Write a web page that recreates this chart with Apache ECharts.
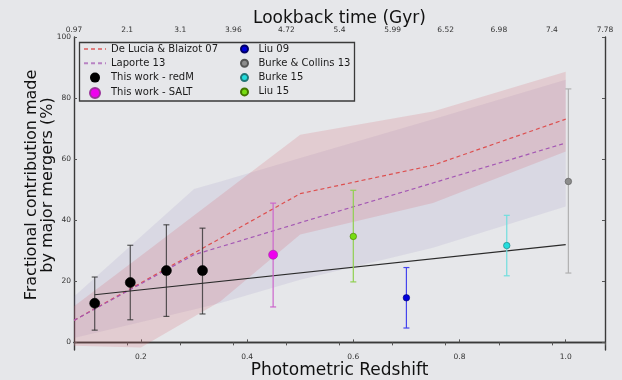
<!DOCTYPE html>
<html>
<head>
<meta charset="utf-8">
<script src="https://cdn.jsdelivr.net/npm/echarts@6/dist/echarts.min.js"></script>
<style>
  html, body { margin: 0; padding: 0; background: #e6e7ea; }
  #chart { width: 622px; height: 380px; }
</style>
</head>
<body>
<div id="chart"></div>
<script>
// Tick labels
const zTicks = [0.2, 0.4, 0.6, 0.8, 1.0];
const fracTicks = [0, 20, 40, 60, 80, 100];
const lookbackLabels = ['0.97', '2.1', '3.1', '3.96', '4.72', '5.4', '5.99', '6.52', '6.98', '7.4', '7.78'];

// De Lucia & Blaizot 07 model: median and spread
const deLuciaZ   = [0.074, 0.2, 0.35, 0.5, 0.75, 1.0];
const deLuciaMid = [7.2, 19.5, 34.1, 48.7, 58.0, 73.1];
const deLuciaHi  = [11.8, 28.4, 48.2, 68.0, 75.6, 88.6];
const deLuciaLo  = [-1.1, -1.7, 13.5, 35.3, 45.6, 62.5];

// Laporte 13 model: median and spread
const laporteZ   = [0.074, 0.3, 0.35, 0.5, 0.75, 1.0];
const laporteMid = [7.2, 28.7, 31.3, 39.2, 52.2, 65.3];
const laporteHi  = [15.0, 50.2, 52.7, 60.4, 73.1, 86.0];
const laporteLo  = [1.4, 10.8, 12.9, 20.5, 31.0, 44.5];

// Linear fit to this work
const fitZ = [0.113, 1.0];
const fitY = [15.6, 32.0];

// Measurements: redshift, value, lower and upper error limits
const redmZ  = [0.113, 0.180, 0.248, 0.316];
const redmY  = [12.8, 19.6, 23.5, 23.5];
const redmLo = [4.0, 7.4, 8.5, 9.3];
const redmHi = [21.4, 31.8, 38.5, 37.4];

const saltZ = [0.449], saltY = [28.7], saltLo = [11.6], saltHi = [45.6];
const liu09Z = [0.700], liu09Y = [14.6], liu09Lo = [4.7], liu09Hi = [24.5];
const bc13Z = [1.005], bc13Y = [52.7], bc13Lo = [22.7], bc13Hi = [83.0];
const burke15Z = [0.889], burke15Y = [31.7], burke15Lo = [21.8], burke15Hi = [41.6];
const liu15Z = [0.600], liu15Y = [34.7], liu15Lo = [19.8], liu15Hi = [49.8];

const FONT = 'DejaVu Sans';

function zip2(a, b) { return a.map((v, i) => [v, b[i]]); }
function zip3(a, b, c) { return a.map((v, i) => [v, b[i], c[i]]); }

function bandSeries(z, lo, hi, color) {
  return {
    type: 'custom',
    coordinateSystem: 'cartesian2d',
    clip: true,
    silent: true,
    z: 1,
    data: zip3(z, lo, hi),
    encode: { x: 0, y: [1, 2] },
    renderItem: function (params, api) {
      if (params.dataIndexInside !== 0) return;
      const n = params.dataInsideLength;
      const pts = [];
      for (let i = 0; i < n; i++) pts.push(api.coord([api.value(0, i), api.value(2, i)]));
      for (let i = n - 1; i >= 0; i--) pts.push(api.coord([api.value(0, i), api.value(1, i)]));
      return { type: 'polygon', shape: { points: pts }, style: { fill: color } };
    }
  };
}

function errorSeries(z, lo, hi, color) {
  return {
    type: 'custom',
    coordinateSystem: 'cartesian2d',
    silent: true,
    z: 3,
    data: zip3(z, lo, hi),
    encode: { x: 0, y: [1, 2] },
    renderItem: function (params, api) {
      const top = api.coord([api.value(0), api.value(2)]);
      const bot = api.coord([api.value(0), api.value(1)]);
      const w = 3;
      const st = { stroke: color, lineWidth: 1.2 };
      return {
        type: 'group',
        children: [
          { type: 'line', shape: { x1: top[0], y1: top[1], x2: bot[0], y2: bot[1] }, style: st },
          { type: 'line', shape: { x1: top[0] - w, y1: top[1], x2: top[0] + w, y2: top[1] }, style: st },
          { type: 'line', shape: { x1: bot[0] - w, y1: bot[1], x2: bot[0] + w, y2: bot[1] }, style: st }
        ]
      };
    }
  };
}

function pointSeries(name, z, y, color, size, edge) {
  return {
    name: name,
    type: 'scatter',
    z: 4,
    symbol: 'circle',
    symbolSize: size,
    data: zip2(z, y),
    itemStyle: { color: color, opacity: 1, borderColor: edge, borderWidth: 0.6 }
  };
}

const axisLineStyle = { color: '#3a3a3a', width: 1.4 };
const tickLabel = { fontSize: 7.5, color: '#333', fontFamily: FONT };
const legendText = { fontSize: 10, color: '#1a1a1a', fontFamily: FONT, lineHeight: 10 };

const chart = echarts.init(document.getElementById('chart'), null, { renderer: 'canvas' });

chart.setOption({
  backgroundColor: '#e6e7ea',
  animation: false,
  textStyle: { fontFamily: FONT },
  grid: { left: 74, right: 17, top: 37, bottom: 30, containLabel: false, outerBoundsMode: 'none' },
  xAxis: [
    {
      type: 'value', position: 'bottom', min: 0.074, max: 1.074,
      name: 'Photometric Redshift', nameLocation: 'middle', nameGap: 12, nameMoveOverlap: false,
      nameTextStyle: { fontSize: 17, color: '#111', fontFamily: FONT },
      axisLine: { show: true, lineStyle: axisLineStyle },
      axisTick: { show: true, inside: true, length: 3, customValues: zTicks, lineStyle: { color: '#555' } },
      axisLabel: Object.assign({ customValues: zTicks, margin: 3, formatter: v => v.toFixed(1) }, tickLabel),
      splitLine: { show: false }
    },
    {
      type: 'value', position: 'top', min: 0, max: lookbackLabels.length - 1,
      name: 'Lookback time (Gyr)', nameLocation: 'middle', nameGap: 10, nameMoveOverlap: false,
      nameTextStyle: { fontSize: 17, color: '#111', fontFamily: FONT },
      axisLine: { show: true, lineStyle: axisLineStyle },
      axisTick: { show: true, inside: true, length: 3, customValues: lookbackLabels.map((_, i) => i), lineStyle: { color: '#555' } },
      axisLabel: Object.assign({ customValues: lookbackLabels.map((_, i) => i), margin: 3, formatter: v => lookbackLabels[Math.round(v)] }, tickLabel),
      splitLine: { show: false }
    }
  ],
  yAxis: [
    {
      type: 'value', position: 'left', min: -2.5, max: 100,
      axisLine: { show: true, lineStyle: axisLineStyle },
      axisTick: { show: true, inside: true, length: 3, customValues: fracTicks, lineStyle: { color: '#555' } },
      axisLabel: Object.assign({ customValues: fracTicks, margin: 3 }, tickLabel),
      splitLine: { show: false }
    },
    {
      type: 'value', position: 'right', min: -2.5, max: 100,
      axisLine: { show: true, lineStyle: axisLineStyle },
      axisTick: { show: true, inside: true, length: 3, customValues: fracTicks, lineStyle: { color: '#555' } },
      axisLabel: { show: false },
      splitLine: { show: false }
    }
  ],
  legend: [
    {
      orient: 'vertical', left: 83, top: 44, padding: 0,
      itemWidth: 22, itemHeight: 10, itemGap: 4.3,
      textStyle: legendText,
      data: [
        { name: 'De Lucia & Blaizot 07', itemStyle: { opacity: 0 }, lineStyle: { opacity: 0.7 } },
        { name: 'Laporte 13', itemStyle: { opacity: 0 }, lineStyle: { opacity: 0.7 } },
        { name: 'This work - redM', itemStyle: { borderWidth: 0 } },
        { name: 'This work - SALT' }
      ]
    },
    {
      orient: 'vertical', left: 240, top: 44, padding: 0,
      itemWidth: 18, itemHeight: 7, itemGap: 4.3,
      textStyle: legendText,
      data: ['Liu 09', 'Burke & Collins 13', 'Burke 15', 'Liu 15']
    }
  ],
  graphic: [
    {
      type: 'rect', z: 0,
      shape: { x: 79.5, y: 42.5, width: 275, height: 58.5 },
      style: { fill: 'none', stroke: '#3a3a3a', lineWidth: 1.3 }
    },
    {
      type: 'text', x: 40, y: 185, rotation: Math.PI / 2,
      style: {
        text: 'Fractional contribution made\nby major mergers (%)',
        font: '16px "DejaVu Sans"', fill: '#111',
        align: 'center', verticalAlign: 'middle', lineHeight: 16
      }
    }
  ],
  series: [
    bandSeries(laporteZ, laporteLo, laporteHi, 'rgba(120,100,170,0.11)'),
    bandSeries(deLuciaZ, deLuciaLo, deLuciaHi, 'rgba(215,90,100,0.19)'),
    {
      name: 'De Lucia & Blaizot 07', type: 'line', z: 2, symbol: 'none',
      data: zip2(deLuciaZ, deLuciaMid),
      itemStyle: { color: '#dd5050' },
      lineStyle: { color: '#dd5050', width: 1.2, type: [4, 3] }
    },
    {
      name: 'Laporte 13', type: 'line', z: 2, symbol: 'none',
      data: zip2(laporteZ, laporteMid),
      itemStyle: { color: '#a458b4' },
      lineStyle: { color: '#a458b4', width: 1.2, type: [4, 3] }
    },
    {
      type: 'line', z: 2, symbol: 'none', silent: true,
      data: zip2(fitZ, fitY),
      lineStyle: { color: '#2a2a2a', width: 1.1 }
    },
    errorSeries(redmZ, redmLo, redmHi, 'rgba(40,40,40,0.75)'),
    errorSeries(saltZ, saltLo, saltHi, '#cc66cc'),
    errorSeries(liu09Z, liu09Lo, liu09Hi, '#4444ee'),
    errorSeries(bc13Z, bc13Lo, bc13Hi, '#b0b0b0'),
    errorSeries(burke15Z, burke15Lo, burke15Hi, '#70dede'),
    errorSeries(liu15Z, liu15Lo, liu15Hi, '#90d050'),
    pointSeries('This work - redM', redmZ, redmY, '#000000', 10, '#000'),
    pointSeries('This work - SALT', saltZ, saltY, '#ee00ee', 9, '#993399'),
    pointSeries('Liu 09', liu09Z, liu09Y, '#0000dd', 6.5, '#000066'),
    pointSeries('Burke & Collins 13', bc13Z, bc13Y, '#8c8c8c', 6.5, '#555'),
    pointSeries('Burke 15', burke15Z, burke15Y, '#22dddd', 6.5, '#227777'),
    pointSeries('Liu 15', liu15Z, liu15Y, '#77dd11', 6.5, '#447700')
  ]
});
</script>
</body>
</html>
